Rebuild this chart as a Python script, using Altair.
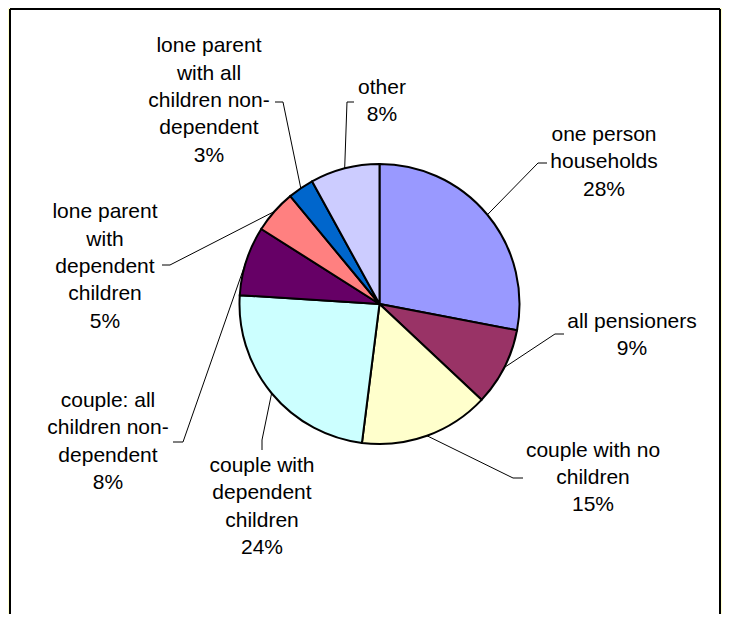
import altair as alt
import pandas as pd

# ---- data ----
categories = [
    "one person|households",
    "all pensioners",
    "couple with no|children",
    "couple with|dependent|children",
    "couple: all|children non-|dependent",
    "lone parent|with|dependent|children",
    "lone parent|with all|children non-|dependent",
    "other",
]
values = [28, 9, 15, 24, 8, 5, 3, 8]

# ---- styles ----
colors = ["#9999FF", "#993366", "#FFFFCC", "#CCFFFF", "#660066", "#FF8080", "#0066CC", "#CCCCFF"]

# ---- layout (page pixel positions of labels / leader elbows / tick ends) ----
label_cx = [604, 632, 593, 262, 108, 105, 209, 382]
label_cy = [162.5, 335.5, 478, 507, 442, 267, 101, 101.5]
elbow_x = [538, 555, 513, 262, 183, 170, 283, 347]
elbow_y = [163, 334, 478, 440, 442, 265, 102, 102]
tick_x = [547, 564, 523, 262, 173, 162, 275, 354]
tick_y = [163, 334, 478, 450, 442, 265, 102, 102]

LH = 27.3
OX, OY = 10, 9          # page offset of view origin (8px page margin + padding)
W, H = 710, 605
CX, CY, R = 379.5 - OX, 304 - OY, 140

df = pd.DataFrame({
    "idx": list(range(len(categories))),
    "name": categories,
    "value": values,
    "color": colors,
    "lx": [v - OX for v in label_cx],
    "ly": [v - OY for v in label_cy],
    "bx": [v - OX for v in elbow_x],
    "by": [v - OY for v in elbow_y],
    "tx": [v - OX for v in tick_x],
    "ty": [v - OY for v in tick_y],
})

base = alt.Chart(df).transform_joinaggregate(
    total="sum(value)"
).transform_window(
    cum="sum(value)", sort=[alt.SortField("idx")]
).transform_calculate(
    mid="(datum.cum - datum.value/2) / datum.total * 2 * PI",
    ex=f"{CX} + {R} * sin(datum.mid)",
    ey=f"{CY} - {R} * cos(datum.mid)",
    lines="split(datum.name + '|' + datum.value + '%', '|')",
).transform_calculate(
    ly0=f"datum.ly - (length(datum.lines) - 1) * {LH} / 2",
)

pie = alt.Chart(df).mark_arc(outerRadius=R, stroke="black", strokeWidth=2).encode(
    theta=alt.Theta("value:Q", stack=True),
    order=alt.Order("idx:Q"),
    color=alt.Color("color:N", scale=None),
    x=alt.value(CX),
    y=alt.value(CY),
)

leader = base.mark_rule(color="black", strokeWidth=1).encode(
    x=alt.X("ex:Q", scale=None),
    y=alt.Y("ey:Q", scale=None),
    x2="bx:Q",
    y2="by:Q",
)

tick = base.mark_rule(color="black", strokeWidth=1).encode(
    x=alt.X("bx:Q", scale=None),
    y=alt.Y("by:Q", scale=None),
    x2="tx:Q",
    y2="ty:Q",
)

labels = base.mark_text(
    font="Liberation Sans", fontSize=21, lineHeight=LH,
    align="center", baseline="middle", color="black",
).encode(
    x=alt.X("lx:Q", scale=None),
    y=alt.Y("ly0:Q", scale=None),
    text=alt.Text("lines:N"),
)

border_left = alt.Chart(df).mark_rule(color="black", strokeWidth=2).encode(
    x=alt.value(0), y=alt.value(0), y2=alt.value(H)
)
border_top = alt.Chart(df).mark_rule(color="black", strokeWidth=2).encode(
    x=alt.value(0), x2=alt.value(W), y=alt.value(0)
)
border_right = alt.Chart(df).mark_rule(color="black", strokeWidth=2).encode(
    x=alt.value(W), y=alt.value(0), y2=alt.value(H)
)

chart = alt.layer(
    pie, leader, tick, labels, border_left, border_top, border_right
).properties(
    width=W,
    height=H,
    padding={"left": 2, "top": 1, "right": 2, "bottom": 0},
    background="#FFFFCC",
    autosize=alt.AutoSizeParams(type="none"),
).configure_view(fill="white", stroke="transparent")

chart.save("out.html", embed_options={"renderer": "svg", "actions": False})
